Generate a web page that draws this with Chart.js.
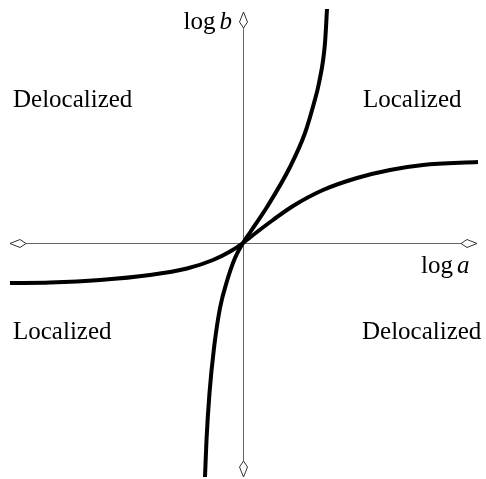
<!DOCTYPE html>
<html>
  <head>
    <meta charset="utf-8">
    <title>Localization diagram</title>
    <style>
      html, body { margin: 0; padding: 0; background: #fff; }
      canvas { display: block; }
    </style>
  </head>
  <body>
    <canvas id="myChart" width="486" height="479"></canvas>
  </body>
  <script src="https://cdn.jsdelivr.net/npm/chart.js@4/dist/chart.umd.min.js"></script>
  <script type="text/javascript">

  // log a on x, log b on y (arbitrary units, origin in the middle)
  let flatX  = [-233, -193, -143, -93, -56, -30, -12, 0, 14, 30, 50, 80, 114, 147, 180, 235]
  let flatY  = [-40, -39.5, -37, -32, -25.5, -17, -8, 0, 11, 23, 37, 53, 65, 73, 78, 81]
  let steepX = [-38, -36.5, -33.5, -29, -23, -16, -8, 0, 8, 24, 47, 62, 71, 76, 82, 84]
  let steepY = [-234, -197, -150, -105, -65, -38, -15, 0, 12, 36, 76, 110, 140, 160, 200, 234]

  let axisX = [-233, 234]
  let axisY = [-234, 231]

  let regionNames = ['Delocalized', 'Localized', 'Localized', 'Delocalized']

  function toPoints(xs, ys) {
    return xs.map((x, i) => ({x: x, y: ys[i]}))
  }

  const SERIF = '"Liberation Serif", "DejaVu Serif", serif'

  // axes arrows and the text labels
  const decor = {
    id: 'decor',
    beforeDatasetsDraw(chart) {
      let ctx = chart.ctx
      let xs = chart.scales.x, ys = chart.scales.y
      let x0 = xs.getPixelForValue(0), y0 = ys.getPixelForValue(0)
      ctx.save()
      ctx.strokeStyle = '#666'
      ctx.lineWidth = 1
      ctx.beginPath()
      ctx.moveTo(xs.getPixelForValue(axisX[0]), y0 + 0.5)
      ctx.lineTo(xs.getPixelForValue(axisX[1]), y0 + 0.5)
      ctx.moveTo(x0 + 0.5, ys.getPixelForValue(axisY[0]))
      ctx.lineTo(x0 + 0.5, ys.getPixelForValue(axisY[1]))
      ctx.stroke()
      ctx.restore()
    },
    afterDatasetsDraw(chart) {
      let ctx = chart.ctx
      let xs = chart.scales.x, ys = chart.scales.y
      let x0 = xs.getPixelForValue(0) + 0.5, y0 = ys.getPixelForValue(0) + 0.5

      // kite shaped arrow heads, tip then widest point then back on the axis
      function kite(tx, ty, dx, dy) {
        let px = -dy, py = dx
        ctx.beginPath()
        ctx.moveTo(tx, ty)
        ctx.lineTo(tx + dx * 10 + px * 4, ty + dy * 10 + py * 4)
        ctx.lineTo(tx + dx * 16, ty + dy * 16)
        ctx.lineTo(tx + dx * 10 - px * 4, ty + dy * 10 - py * 4)
        ctx.closePath()
        ctx.fill()
        ctx.stroke()
      }
      ctx.save()
      ctx.fillStyle = '#fff'
      ctx.strokeStyle = '#333'
      ctx.lineWidth = 1
      kite(xs.getPixelForValue(axisX[0]), y0, 1, 0)
      kite(xs.getPixelForValue(axisX[1]), y0, -1, 0)
      kite(x0, ys.getPixelForValue(axisY[1]), 0, 1)
      kite(x0, ys.getPixelForValue(axisY[0]), 0, -1)

      ctx.fillStyle = '#000'
      ctx.textBaseline = 'alphabetic'
      ctx.font = '25px ' + SERIF
      ctx.textAlign = 'left'
      ctx.fillText(regionNames[0], xs.getPixelForValue(-230), ys.getPixelForValue(136))
      ctx.fillText(regionNames[1], xs.getPixelForValue(120), ys.getPixelForValue(136))
      ctx.fillText(regionNames[2], xs.getPixelForValue(-230), ys.getPixelForValue(-96))
      ctx.fillText(regionNames[3], xs.getPixelForValue(119), ys.getPixelForValue(-96))

      // "log" upright, variable in italics
      function logLabel(v, x, y, alignRight) {
        ctx.font = '25px ' + SERIF
        let w1 = ctx.measureText('log').width
        ctx.font = 'italic 25px ' + SERIF
        let w2 = ctx.measureText(v).width
        let left = alignRight ? x - w1 - 4 - w2 : x
        ctx.font = '25px ' + SERIF
        ctx.fillText('log', left, y)
        ctx.font = 'italic 25px ' + SERIF
        ctx.fillText(v, left + w1 + 4, y)
      }
      logLabel('b', xs.getPixelForValue(-11), ys.getPixelForValue(214), true)
      logLabel('a', xs.getPixelForValue(178), ys.getPixelForValue(-30), false)
      ctx.restore()
    }
  }

  var ctx = document.getElementById('myChart').getContext('2d')
  var chart = new Chart(ctx, {
    type: 'scatter',
    data: {
      datasets: [{
        data: toPoints(flatX, flatY),
        showLine: true,
        borderColor: '#000',
        borderWidth: 4,
        pointRadius: 0,
        cubicInterpolationMode: 'monotone'
      }, {
        data: toPoints(steepX, steepY),
        showLine: true,
        borderColor: '#000',
        borderWidth: 4,
        pointRadius: 0,
        cubicInterpolationMode: 'monotone'
      }]
    },
    options: {
      responsive: false,
      animation: false,
      devicePixelRatio: 1,
      layout: { padding: 0 },
      plugins: {
        legend: { display: false },
        tooltip: { enabled: false }
      },
      scales: {
        x: { type: 'linear', min: -243, max: 243, display: false },
        y: { type: 'linear', min: -236, max: 243, display: false }
      }
    },
    plugins: [decor]
  })
  </script>
</html>
